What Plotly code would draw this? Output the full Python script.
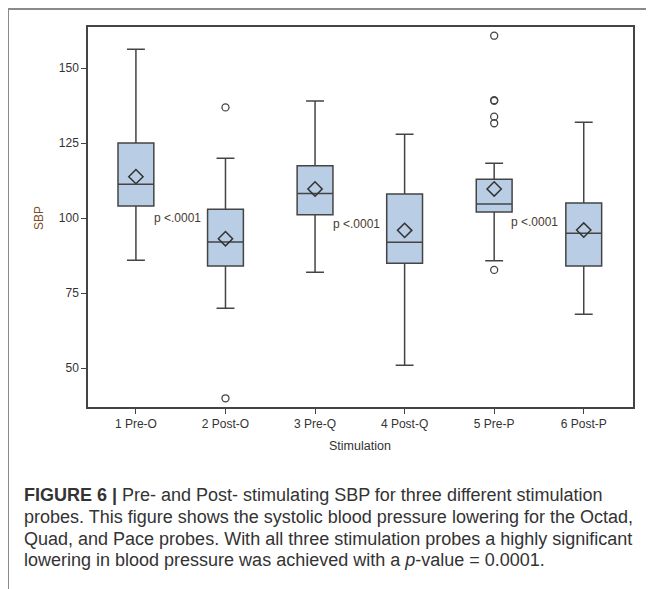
import plotly.graph_objects as go

categories = ["1 Pre-O", "2 Post-O", "3 Pre-Q", "4 Post-Q", "5 Pre-P", "6 Post-P"]
positions = [1, 2, 3, 4, 5, 6]
lower_whisker = [85.9, 69.9, 81.9, 50.9, 85.8, 67.9]
q1 = [104.0, 84.0, 101.1, 84.9, 102.0, 84.0]
median = [111.3, 92.0, 108.2, 91.9, 104.7, 94.9]
q3 = [125.0, 102.9, 117.4, 108.0, 112.9, 105.0]
upper_whisker = [156.3, 119.9, 139.0, 127.9, 118.3, 131.9]
means = [113.8, 93.1, 109.7, 95.9, 109.7, 96.0]

outlier_x = [2, 2, 5, 5, 5, 5, 5, 5]
outlier_y = [136.9, 39.9, 160.8, 139.1, 139.3, 133.8, 131.6, 82.7]

pval_x = [1.46, 3.46, 5.45]
pval_y = [100.0, 98.0, 98.7]
pval_text = ["p <.0001", "p <.0001", "p <.0001"]

caption_lines = [
    "<b>FIGURE 6 |</b> Pre- and Post- stimulating SBP for three different stimulation",
    "probes. This figure shows the systolic blood pressure lowering for the Octad,",
    "Quad, and Pace probes. With all three stimulation probes a highly significant",
    "lowering in blood pressure was achieved with a <i>p</i>-value = 0.0001.",
]

fig = go.Figure()
fig.add_trace(go.Box(
    x=positions, q1=q1, median=median, q3=q3,
    lowerfence=lower_whisker, upperfence=upper_whisker,
    boxpoints=False, width=0.4, whiskerwidth=0.5,
    fillcolor="#b9cde5", line=dict(color="#444444", width=1.5),
    showlegend=False, hoverinfo="skip",
))
fig.add_trace(go.Scatter(
    x=positions, y=means, mode="markers",
    marker=dict(symbol="diamond-open", size=11, color="#333333", line=dict(width=1.5)),
    showlegend=False,
))
fig.add_trace(go.Scatter(
    x=outlier_x, y=outlier_y, mode="markers",
    marker=dict(symbol="circle-open", size=7, color="#444444", line=dict(width=1.3)),
    showlegend=False,
))

OFF = 8  # page body margin offset
PL, PT, PR, PB = 88 - OFF, 27 - OFF, 633 - OFF, 407 - OFF
W, H = 654, 589
pw, ph = PR - PL, PB - PT

def px(xp):
    return (xp - OFF - PL) / pw

def py(yp):
    return (PB - (yp - OFF)) / ph

annotations = []
for xv, yv, t in zip(pval_x, pval_y, pval_text):
    annotations.append(dict(x=xv, y=yv, xref="x", yref="y", text=t, showarrow=False,
                            xanchor="center", yanchor="middle",
                            font=dict(family="Liberation Sans, Arial", size=12, color="#4a3a2e")))

annotations.append(dict(x=px(39), y=py(218), xref="paper", yref="paper", text="SBP",
                        textangle=-90, showarrow=False, xanchor="center", yanchor="middle",
                        font=dict(family="Liberation Sans, Arial", size=12, color="#7a4e28")))
annotations.append(dict(x=px(360), y=py(446), xref="paper", yref="paper", text="Stimulation",
                        showarrow=False, xanchor="center", yanchor="middle",
                        font=dict(family="Liberation Sans, Arial", size=12.5, color="#333333")))

line_y = [495, 517, 539, 560]
for yv, t in zip(line_y, caption_lines):
    annotations.append(dict(x=px(22), y=py(yv), xref="paper", yref="paper", text=t,
                            xanchor="left", yanchor="middle", showarrow=False,
                            font=dict(family="Liberation Sans, Arial", size=18, color="#333333")))

shapes = [
    dict(type="line", xref="paper", yref="paper", x0=px(8), x1=px(660), y0=py(9), y1=py(9),
         line=dict(color="#8a8a8a", width=2)),
    dict(type="line", xref="paper", yref="paper", x0=px(8), x1=px(8), y0=py(9), y1=py(600),
         line=dict(color="#8a8a8a", width=2)),
]

fig.update_layout(
    width=W, height=H,
    margin=dict(l=PL, r=W - PR, t=PT, b=H - PB),
    paper_bgcolor="white", plot_bgcolor="white",
    annotations=annotations, shapes=shapes,
    showlegend=False,
    xaxis=dict(range=[0.465, 6.55], tickvals=positions, ticktext=categories,
               showgrid=False, zeroline=False, showline=True, linecolor="#444444", linewidth=1.5,
               mirror=True, ticks="outside", ticklen=5, tickcolor="#444444",
               tickfont=dict(family="Liberation Sans, Arial", size=12, color="#333333")),
    yaxis=dict(range=[37, 163.7], tickvals=[50, 75, 100, 125, 150],
               showgrid=False, zeroline=False, showline=True, linecolor="#444444", linewidth=1.5,
               mirror=True, ticks="outside", ticklen=5, tickcolor="#444444",
               tickfont=dict(family="Liberation Sans, Arial", size=12, color="#333333")),
)

fig.write_html("out.html")
